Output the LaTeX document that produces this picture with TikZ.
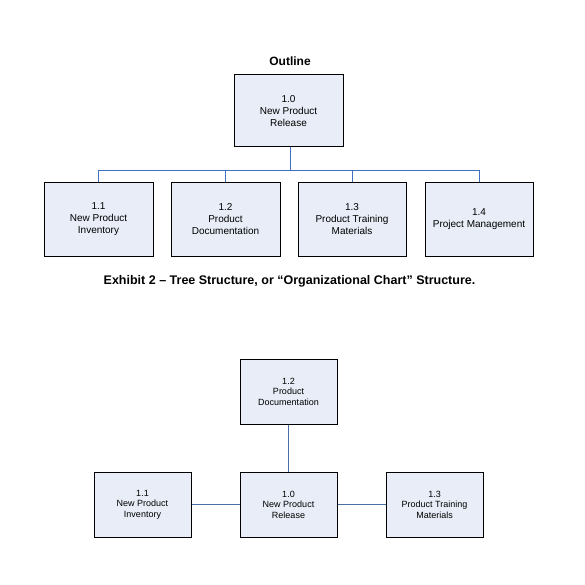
\documentclass[tikz,border=0pt]{standalone}
\usepackage{fontspec}
\setmainfont{Liberation Sans}
\begin{document}
\begin{tikzpicture}[x=1pt,y=-1pt,
  box/.style={draw=black,line width=1pt,fill=boxfill,inner sep=0pt,align=center,font=\fontsize{10}{12}\selectfont},
  sbox/.style={draw=black,line width=1pt,fill=boxfill,inner sep=0pt,align=center,font=\fontsize{9}{10.5}\selectfont},
  tline/.style={draw=lineblue,line width=0.9pt},
  bline/.style={draw=lineblue2,line width=0.9pt}]
\definecolor{boxfill}{HTML}{E8EDF7}
\definecolor{lineblue}{HTML}{3F6FC0}
\definecolor{lineblue2}{HTML}{4A6FA5}
\useasboundingbox (0,0) rectangle (585,585);
\fill[white] (0,0) rectangle (585,585);
% top tree
\node[font=\fontsize{12}{14}\selectfont\bfseries] (title) at (290,61) {Outline};
\node[box,minimum width=109pt,minimum height=72pt] (r) at (288.5,111) {1.0\\New Product\\Release};
\node[box,minimum width=109pt,minimum height=73pt] (c1) at (98.5,219.5) {1.1\\New Product\\Inventory};
\node[box,minimum width=109pt,minimum height=73pt] (c2) at (225.5,219.5) {1.2\\Product\\Documentation};
\node[box,minimum width=108pt,minimum height=73pt] (c3) at (352,219.5) {1.3\\Product Training\\Materials};
\node[box,minimum width=108pt,minimum height=73pt] (c4) at (479,219.5) {1.4\\Project Management};
\coordinate (j) at (290,170);
\draw[tline] (r.south -| j) -- (j);
\draw[tline] (c1.north) |- (j);
\draw[tline] (c2.north) |- (j);
\draw[tline] (c3.north) |- (j);
\draw[tline] (c4.north) |- (j);
\node[font=\fontsize{12.5}{14}\selectfont\bfseries] (cap) at (289.5,281) {Exhibit 2 -- Tree Structure, or ``Organizational Chart'' Structure.};
% bottom
\node[sbox,minimum width=97pt,minimum height=65pt] (b2) at (288.5,391.5) {1.2\\Product\\Documentation};
\node[sbox,minimum width=97pt,minimum height=65pt] (b0) at (288.5,504.5) {1.0\\New Product\\Release};
\node[sbox,minimum width=97pt,minimum height=65pt] (b1) at (142.5,504.5) {1.1\\New Product\\Inventory};
\node[sbox,minimum width=97pt,minimum height=65pt] (b3) at (434.5,504.5) {1.3\\Product Training\\Materials};
\draw[bline] (b2) -- (b0);
\draw[bline] (b1) -- (b0);
\draw[bline] (b0) -- (b3);
\end{tikzpicture}
\end{document}
